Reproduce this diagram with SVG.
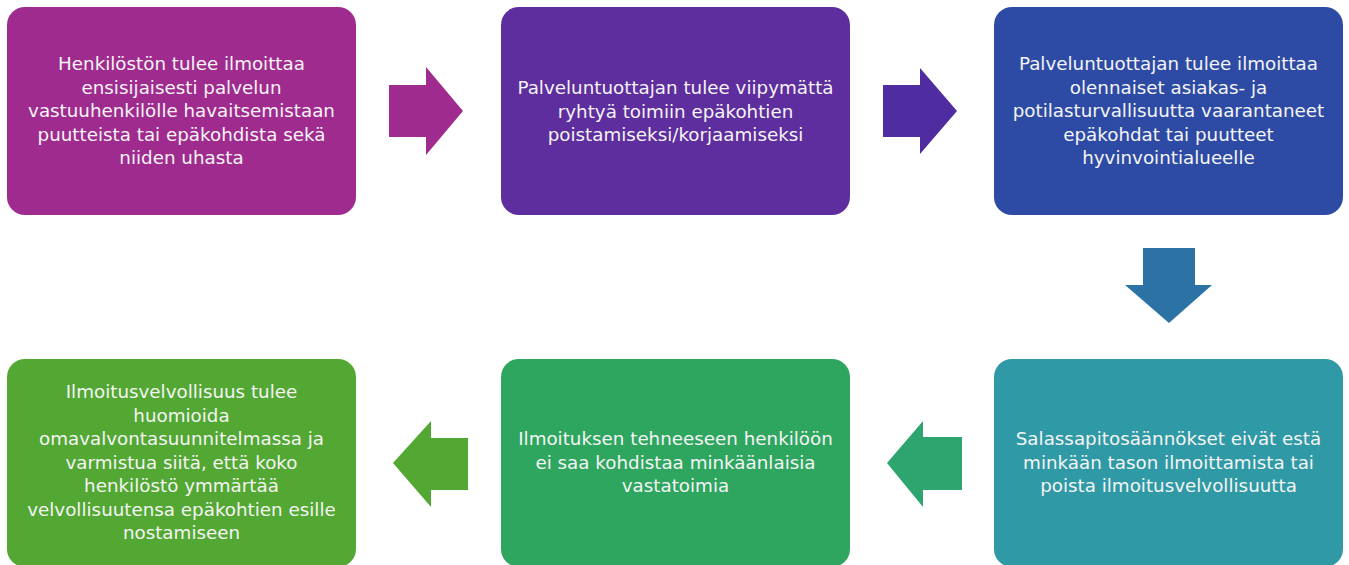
<svg xmlns="http://www.w3.org/2000/svg" width="1349" height="565" viewBox="0 0 1349 565">
<style>
.box{stroke:none}
.t{font-family:"DejaVu Sans","Open Sans",sans-serif;font-size:18.3px;fill:#F4F4F4;text-anchor:middle}
</style>
<rect width="1349" height="565" fill="#FFFFFF"/>
<g id="connectors">
<polygon points="389,85 426,85 426,67 463,111 426,155 426,137 389,137" fill="#A02B8F"/>
<polygon points="883,85 920,85 920,68 957,111 920,154 920,137 883,137" fill="#4F2C9F"/>
<polygon points="1143,248 1195,248 1195,285 1212,285 1169,323 1125,285 1143,285" fill="#2C72A5"/>
<polygon points="962,437 923,437 923,421 887,463 923,507 923,490 962,490" fill="#2EA46E"/>
<polygon points="468,438 431,438 431,421 393,463 431,507 431,490 468,490" fill="#52A832"/>
</g>
<g id="node1">
<rect class="box" x="7" y="7" width="349" height="208" rx="18" fill="#A02B8F"/>
<text class="t" x="181.5"><tspan x="181.5" y="70">Henkilöstön tulee ilmoittaa</tspan><tspan x="181.5" y="93.5">ensisijaisesti palvelun</tspan><tspan x="181.5" y="117">vastuuhenkilölle havaitsemistaan</tspan><tspan x="181.5" y="140.5">puutteista tai epäkohdista sekä</tspan><tspan x="181.5" y="164">niiden uhasta</tspan></text>
</g>
<g id="node2">
<rect class="box" x="501" y="7" width="349" height="208" rx="18" fill="#5E2D9E"/>
<text class="t"><tspan x="675.5" y="94">Palveluntuottajan tulee viipymättä</tspan><tspan x="675.5" y="117.5">ryhtyä toimiin epäkohtien</tspan><tspan x="675.5" y="141">poistamiseksi/korjaamiseksi</tspan></text>
</g>
<g id="node3">
<rect class="box" x="994" y="7" width="349" height="208" rx="18" fill="#2D4BA5"/>
<text class="t"><tspan x="1168.5" y="70">Palveluntuottajan tulee ilmoittaa</tspan><tspan x="1168.5" y="93.5">olennaiset asiakas- ja</tspan><tspan x="1168.5" y="117">potilasturvallisuutta vaarantaneet</tspan><tspan x="1168.5" y="140.5">epäkohdat tai puutteet</tspan><tspan x="1168.5" y="164">hyvinvointialueelle</tspan></text>
</g>
<g id="node4">
<rect class="box" x="994" y="359" width="349" height="208" rx="18" fill="#2F9AA5"/>
<text class="t"><tspan x="1168.5" y="445">Salassapitosäännökset eivät estä</tspan><tspan x="1168.5" y="468.5">minkään tason ilmoittamista tai</tspan><tspan x="1168.5" y="492">poista ilmoitusvelvollisuutta</tspan></text>
</g>
<g id="node5">
<rect class="box" x="501" y="359" width="349" height="208" rx="18" fill="#2EA65F"/>
<text class="t"><tspan x="675.5" y="445">Ilmoituksen tehneeseen henkilöön</tspan><tspan x="675.5" y="468.5">ei saa kohdistaa minkäänlaisia</tspan><tspan x="675.5" y="492">vastatoimia</tspan></text>
</g>
<g id="node6">
<rect class="box" x="7" y="359" width="349" height="208" rx="18" fill="#52A832"/>
<text class="t"><tspan x="181.5" y="398">Ilmoitusvelvollisuus tulee</tspan><tspan x="181.5" y="421.5">huomioida</tspan><tspan x="181.5" y="445">omavalvontasuunnitelmassa ja</tspan><tspan x="181.5" y="468.5">varmistua siitä, että koko</tspan><tspan x="181.5" y="492">henkilöstö ymmärtää</tspan><tspan x="181.5" y="515.5">velvollisuutensa epäkohtien esille</tspan><tspan x="181.5" y="539">nostamiseen</tspan></text>
</g>
</svg>
